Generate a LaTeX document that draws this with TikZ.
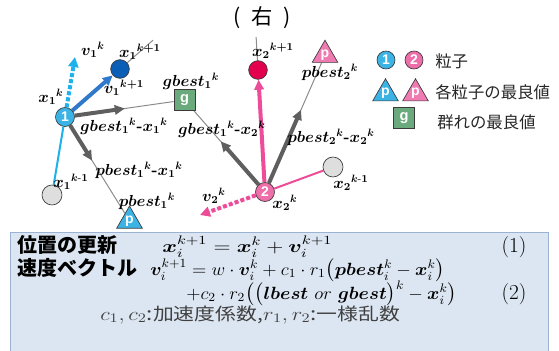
\RequirePackage{fix-cm}
\documentclass[tikz,border=0pt]{standalone}
\usepackage{amsmath,bm,graphicx}
\usepackage{fontspec}
\newfontfamily\jp{Noto Sans CJK JP}
\newfontfamily\sans{Liberation Sans}
\usetikzlibrary{arrows.meta,shapes.geometric,calc}
\pgfdeclarelayer{bg}\pgfsetlayers{bg,main}
\newcommand\SP[1]{^{\raisebox{-1.3pt}{$\scriptstyle #1$}}}
\newcommand\SB[1]{_{\raisebox{1.2pt}{$\scriptstyle #1$}}}
\definecolor{cblue}{HTML}{3BB4E5}
\definecolor{cdblue}{HTML}{0A5EB5}
\definecolor{cgreen}{HTML}{6BAA7C}
\definecolor{cpink}{HTML}{EE6EA9}
\definecolor{cpinktri}{HTML}{F07BB3}
\definecolor{cred}{HTML}{E2004E}
\definecolor{cpinkar}{HTML}{EC4C98}
\definecolor{cblar}{HTML}{2F78CA}
\definecolor{ccyan}{HTML}{1DB2EC}
\definecolor{cgrayar}{HTML}{5F5F5F}
\definecolor{cthin}{HTML}{8C8C8C}
\definecolor{boxfill}{HTML}{DCE6F2}
\definecolor{boxline}{HTML}{9BB2D2}
\definecolor{outl}{HTML}{3A3A3A}
\begin{document}
\begin{tikzpicture}[x=0.75pt,y=-0.75pt,
  ptc/.style={circle,draw=outl,line width=0.5pt,minimum size=14.25pt,inner sep=0pt,text=white,font=\sans\bfseries\fontsize{10.5}{10.5}\selectfont},
  newpt/.style={circle,draw=outl,line width=0.5pt,minimum size=14pt,inner sep=0pt},
  oldpt/.style={circle,draw=outl,line width=0.5pt,fill=black!13,minimum size=15pt,inner sep=0pt},
  tri/.style={regular polygon,regular polygon sides=3,minimum size=21.2pt,inner sep=0pt,draw=outl,line width=0.5pt,text=white,font=\sans\bfseries\fontsize{10.5}{10.5}\selectfont},
  gsq/.style={rectangle,minimum size=15.75pt,inner sep=0pt,fill=cgreen,draw=outl,line width=0.5pt,text=white,font=\sans\bfseries\fontsize{11}{11}\selectfont},
  lab/.style={inner sep=0pt,font=\fontsize{12}{12}\selectfont},
  thinln/.style={draw=cthin,line width=0.75pt},
  fat/.style={line width=3pt,-{Triangle[length=7.5pt,width=7pt]}},
  dotar/.style={line width=3pt,dash pattern=on 3pt off 1.6pt,-{Triangle[length=7.5pt,width=7.5pt]}},
  leg/.style={anchor=west,inner sep=0pt,text=black!85,font=\jp\fontsize{12.3}{12.3}\selectfont},
  jpb/.style={anchor=base west,inner sep=0pt,font=\jp\bfseries\fontsize{15}{15}\selectfont},
  fml/.style={anchor=base west,inner sep=0pt,font=\fontsize{13.3}{13.3}\selectfont},
  eqn/.style={anchor=base,inner sep=0pt,font=\fontsize{16}{16}\selectfont}
]
\useasboundingbox (0,0) rectangle (559,350);

% title
\node[inner sep=0pt,font=\jp\fontsize{16}{16}\selectfont] (title) at (262,18) {(\hspace{8pt}右\hspace{8pt})};

% formula box
\node[draw=boxline,fill=boxfill,line width=0.75pt,anchor=north west,minimum width=403.5pt,minimum height=90pt,inner sep=0pt] (box) at (10,232) {};

% particles and bests
\node[ptc,fill=cblue] (P1) at (65,117) {1};
\node[newpt,fill=cdblue] (X1n) at (120,69) {};
\node[oldpt] (X1o) at (52,195) {};
\node[gsq] (G) at (184.5,100) {g};
\node[tri,fill=cblue] (PB1) at (129.5,220.8) {p};
\node[ptc,fill=cpink] (P2) at (265,192) {2};
\node[newpt,fill=cred] (X2n) at (258,70) {};
\node[oldpt] (X2o) at (333,167) {};
\node[tri,fill=cpinktri] (PB2) at (325,55) {p};

\coordinate (V1) at (75,57);
\coordinate (V2) at (200,215);
\coordinate (E1) at ($(P1)!1.6!(X1n)$);
\coordinate (E2) at ($(P2)!1.27!(X2n)$);

\begin{pgfonlayer}{bg}
\draw[thinln] (X1n) -- (E1);
\draw[thinln] (X2n) -- (E2);
\draw[thinln] (P1) -- (G);
\draw[thinln] (P1) -- (PB1);
\draw[thinln] (P2) -- (G);
\draw[thinln] (P2) -- (PB2);
\draw[draw=ccyan,line width=1.5pt] (X1o) -- (P1);
\draw[draw=cpinkar,line width=1.5pt] (X2o) -- (P2);
\draw[fat,draw=cgrayar,fill=cgrayar] (P1) -- ($(P1)!0.5!(G)$);
\draw[fat,draw=cgrayar,fill=cgrayar] (P1) -- ($(P1)!0.42!(PB1)$);
\draw[fat,draw=cgrayar,fill=cgrayar] (P2) -- ($(P2)!0.55!(G)$);
\draw[fat,draw=cgrayar,fill=cgrayar] (P2) -- ($(P2)!0.6!(PB2)$);
\draw[fat,draw=cblar,fill=cblar] (P1) -- (X1n);
\draw[fat,draw=cpinkar,fill=cpinkar] (P2) -- (X2n);
\draw[dotar,draw=ccyan,fill=ccyan] (P1) -- (V1);
\draw[dotar,draw=cpinkar,fill=cpinkar] (P2) -- (V2);
\end{pgfonlayer}

% labels
\node[lab] (Lv1) at (93,50) {$\bm{v_1{}^k}$};
\node[lab] (Lx1n) at (140,52) {$\bm{x_1{}^{k+1}}$};
\node[lab] (Lv1n) at (124,88) {$\bm{v_1{}^{k+1}}$};
\node[lab] (Lx1) at (51,97) {$\bm{x_1{}^k}$};
\node[lab] (Lg) at (191,81) {$\bm{gbest_1{}^k}$};
\node[lab] (Lg1) at (124,126) {$\bm{gbest_1{}^k}$\textbf{-}$\bm{x_1{}^k}$};
\node[lab] (Lp1x) at (139,170) {$\bm{pbest_1{}^k}$\textbf{-}$\bm{x_1{}^k}$};
\node[lab] (Lp1) at (147,201) {$\bm{pbest_1{}^k}$};
\node[lab] (Lx1o) at (71,182) {$\bm{x_1{}^{k\text{-}1}}$};
\node[lab] (Lx2n) at (273,51) {$\bm{x_2{}^{k+1}}$};
\node[lab] (Lp2) at (330,72) {$\bm{pbest_2{}^k}$};
\node[lab] (Lp2x) at (331,137) {$\bm{pbest_2{}^k}$\textbf{-}$\bm{x_2{}^k}$};
\node[lab] (Lg2x) at (222,129) {$\bm{gbest_1{}^k}$\textbf{-}$\bm{x_2{}^k}$};
\node[lab] (Lx2o) at (351,183) {$\bm{x_2{}^{k\text{-}1}}$};
\node[lab] (Lx2) at (285,203) {$\bm{x_2{}^k}$};
\node[lab] (Lv2) at (214,196) {$\bm{v_2{}^k}$};

% legend
\node[ptc,fill=cblue,minimum size=13.5pt] (LP1) at (386,60) {1};
\node[ptc,fill=cpink,minimum size=13.5pt] (LP2) at (414,60) {2};
\node[leg] (Lt1) at (435,61) {粒子};
\node[tri,fill=cblue,minimum size=20pt] (LT1) at (385.5,93.5) {p};
\node[tri,fill=cpinktri,minimum size=20pt] (LT2) at (415.5,93.5) {p};
\node[leg] (Lt2) at (435,92) {各粒子の最良値};
\node[gsq] (LG) at (404,118) {g};
\node[leg] (Lt3) at (437,122) {群れの最良値};

% formulas
\coordinate (c1) at (162,0);
\coordinate (c2) at (150,0);
\coordinate (cn) at (514,0);
\node[jpb] (t1) at (17,252) {位置の更新};
\node[fml] (f1) at (c1 |- t1.base) {\resizebox{127.5pt}{\height}{$\bm{x}\SB{i}\SP{k+1} = \bm{x}\SB{i}\SP{k} + \bm{v}\SB{i}\SP{k+1}$}};
\node[eqn] (n1) at (cn |- t1.base) {(1)};
\node[jpb] (t2) at (17,275) {速度ベクトル};
\node[fml] (f2) at (c2 |- t2.base) {\resizebox{221pt}{\height}{$\bm{v}\SB{i}\SP{k+1} = w\cdot\bm{v}\SB{i}\SP{k} + c_1\cdot r_1\bigl(\bm{pbest}\SB{i}\SP{k} - \bm{x}\SB{i}\SP{k}\bigr)$}};
\node[fml] (f3) at (186,299) {\resizebox{203pt}{\height}{$+c_2\cdot r_2\bigl(\bigl(\bm{lbest}\ or\ \bm{gbest}\bigr)\SP{k} - \bm{x}\SB{i}\SP{k}\bigr)$}};
\node[eqn] (n2) at (cn |- f3.base) {(2)};
\node[fml,text=black!75,font=\jp\fontsize{13}{13}\selectfont] (f4) at (100,320) {\resizebox{225pt}{\height}{{\fontsize{14}{14}\selectfont$c_1, c_2$:}加速度係数,{\fontsize{14}{14}\selectfont$r_1, r_2$:}一様乱数}};
\end{tikzpicture}
\end{document}
